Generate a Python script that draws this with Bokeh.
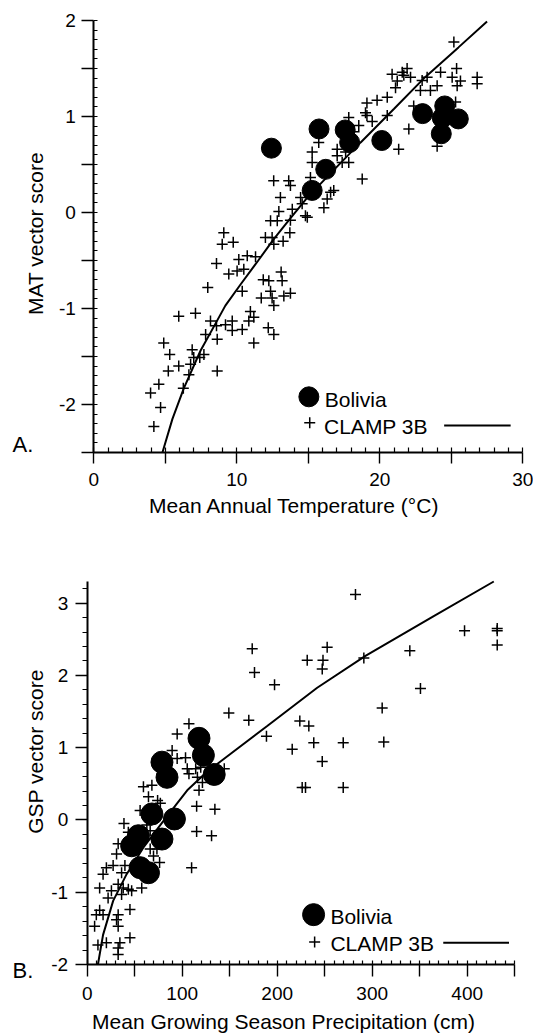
import math
from bokeh.plotting import figure
from bokeh.layouts import column
from bokeh.models import Range1d, FixedTicker, CustomJSTickFormatter, Label
from bokeh.embed import file_html
from bokeh.resources import INLINE

FONT = "Liberation Sans"

# ---------------- Panel A data ----------------
bolivia_a_x = [12.42, 15.75, 17.58, 17.89, 16.22, 15.27, 20.14, 22.99, 24.54, 24.37, 25.49, 24.30]
bolivia_a_y = [0.67, 0.87, 0.86, 0.73, 0.45, 0.23, 0.75, 1.03, 1.11, 0.985, 0.975, 0.82]

clamp_a_x = [13.05, 14.46, 12.94, 13.88, 12.36, 12.83, 13.75, 14.8, 9.09, 8.98, 9.75, 12.0, 12.47,
             12.59, 13.24, 13.71, 8.58, 10.14, 10.73, 11.31, 9.44, 10.02, 10.49, 10.38, 7.97, 11.85,
             12.24, 13.1, 13.17, 11.71, 12.36, 12.47, 13.29, 13.75, 12.59, 5.94, 7.11, 8.16, 8.58,
             7.82, 9.21, 9.68, 9.68, 10.38, 8.63, 10.95, 11.19, 10.84, 12.2, 12.59, 11.19, 4.89,
             5.31, 6.88, 7.7, 6.99, 7.41, 5.21, 5.94, 6.77, 6.65, 8.63, 4.55, 3.97, 6.26, 4.67, 4.2,
             25.18, 20.86, 21.57, 21.91, 22.15, 21.22, 21.1, 21.68, 20.52, 19.81, 19.1, 19.0, 19.1,
             20.52, 17.83, 18.53, 19.47, 22.96, 23.31, 22.84, 23.54, 24.01, 24.25, 25.37, 25.06,
             25.64, 25.41, 26.81, 26.81, 25.3, 22.37, 22.03, 21.32, 24.01, 15.73, 15.27, 15.27,
             15.15, 17.02, 17.02, 17.61, 17.83, 17.37, 18.77, 12.58, 13.63, 13.75, 16.56, 16.78,
             16.32, 16.09, 14.57, 14.93, 18.2]
clamp_a_y = [0.157, 0.157, 0.01, 0.035, -0.087, -0.087, -0.08, -0.035, -0.21, -0.33, -0.31, -0.26,
             -0.26, -0.33, -0.30, -0.21, -0.53, -0.49, -0.45, -0.46, -0.64, -0.61, -0.59, -0.82,
             -0.78, -0.70, -0.71, -0.62, -0.71, -0.89, -0.82, -0.89, -0.87, -0.84, -0.97, -1.08,
             -1.05, -1.13, -1.18, -1.27, -1.17, -1.13, -1.23, -1.22, -1.32, -1.03, -1.09, -1.13,
             -1.20, -1.27, -1.36, -1.36, -1.48, -1.43, -1.48, -1.51, -1.51, -1.65, -1.60, -1.58,
             -1.69, -1.65, -1.79, -1.88, -1.83, -2.03, -2.23,
             1.775, 1.44, 1.46, 1.50, 1.41, 1.37, 1.30, 1.43, 1.20, 1.17, 1.14, 1.04, 1.01, 1.01,
             0.99, 0.905, 0.947, 1.375, 1.41, 1.27, 1.27, 1.32, 1.46, 1.50, 1.41, 1.37, 1.32, 1.41,
             1.34, 1.15, 1.11, 0.87, 0.66, 0.69, 0.73, 0.63, 0.52, 0.365, 0.66, 0.59, 0.63, 0.52,
             0.52, 0.35, 0.33, 0.33, 0.28, 0.21, 0.23, 0.14, 0.05, 0.09, -0.05, 0.84]

fit_a_x = [4.8, 5.5, 6.3, 7.46, 8.5, 9.2, 10.26, 11.5, 12.57, 13.7, 14.9, 16.5, 18.66, 21.0, 23.17, 25.5, 27.5]
fit_a_y = [-2.5, -2.15, -1.83, -1.44, -1.16, -0.97, -0.75, -0.50, -0.28, -0.07, 0.15, 0.40, 0.73, 1.08, 1.41, 1.72, 1.99]

# ---------------- Panel B data ----------------
bolivia_b_x = [78.7, 84.0, 117.7, 122.3, 133.7, 68.1, 91.8, 78.7, 53.9, 46.8, 55.7, 64.5]
bolivia_b_y = [0.80, 0.59, 1.13, 0.895, 0.63, 0.083, 0.014, -0.264, -0.218, -0.357, -0.66, -0.73]

clamp_b_x = [282.4, 173.7, 176.1, 197.2, 252.6, 231.6, 248.2, 247.4, 291.2, 339.6, 350.8, 310.5,
             312.2, 397.2, 431.6, 431.6, 431.6, 149.1, 170.1, 188.7, 223.8, 233.3, 215.8, 238.5,
             269.5, 247.4, 226.3, 229.8, 269.5,
             107.1, 94.7, 89.4, 94.7, 103.5, 105.3, 107.1, 114.2, 119.5, 116.0, 121.3, 117.7, 144.3,
             134.4, 115.2, 115.2, 130.9, 109.9,
             68.1, 59.2, 64.5, 74.1, 77.0, 55.7, 62.8, 66.3, 38.7, 43.3, 32.6, 30.9, 27.3, 20.2, 16.7,
             36.2, 39.7, 66.3, 69.8, 76.2, 73.4, 32.6, 37.9, 43.3, 57.4, 46.8, 36.2, 13.1, 22.0, 25.5,
             13.1, 9.6, 16.7, 7.8, 32.6, 30.9, 32.6, 45.0, 45.0, 34.4, 32.6, 32.6, 20.2, 11.3]
clamp_b_y = [3.12, 2.37, 2.04, 1.87, 2.39, 2.21, 2.21, 2.09, 2.24, 2.34, 1.82, 1.55, 1.08, 2.62,
             2.65, 2.62, 2.42, 1.48, 1.38, 1.16, 1.37, 1.30, 0.98, 1.07, 1.07, 0.81, 0.45, 0.45, 0.45,
             1.33, 1.19, 0.96, 0.85, 0.86, 0.71, 0.64, 0.71, 0.73, 0.59, 0.52, 0.41, 0.71, 0.15, 0.19,
             -0.16, -0.22, -0.66,
             0.48, 0.46, 0.32, 0.27, 0.23, 0.13, -0.07, -0.15, -0.05, -0.17, -0.33, -0.47, -0.63,
             -0.66, -0.75, -0.73, -0.63, -0.40, -0.50, -0.59, -0.40, -0.89, -0.94, -0.96, -0.94,
             -0.98, -1.03, -0.94, -1.08, -0.98, -1.25, -1.31, -1.31, -1.47, -1.31, -1.38, -1.47,
             -1.24, -1.63, -1.70, -1.86, -1.77, -1.70, -1.73]

fit_b_x = [11.3, 16.7, 27.3, 41.5, 59.2, 80.5, 105.3, 123, 140.3, 189.5, 242.1, 292.9, 364.8, 428]
fit_b_y = [-2.0, -1.59, -1.12, -0.75, -0.38, -0.01, 0.41, 0.63, 0.81, 1.30, 1.83, 2.27, 2.82, 3.30]

# ---------------- ticks ----------------
a_x_major = [0, 5, 10, 15, 20, 25, 30]
a_x_minor = list(range(0, 31))
a_y_major = [-2.5, -2.0, -1.5, -1.0, -0.5, 0.0, 0.5, 1.0, 1.5, 2.0]
a_y_minor = [round(-2.5 + 0.1 * i, 2) for i in range(46)]
b_x_major = list(range(0, 451, 50))
b_x_minor = list(range(0, 451, 10))
b_y_major = [-2, -1, 0, 1, 2, 3]
b_y_minor = [round(-2 + 0.2 * i, 2) for i in range(27)]

FMT = "return (Math.abs(tick/step - Math.round(tick/step)) < 1e-6) ? tick.toFixed(0) : '';"


class Panel:
    """Figure whose frame fills the canvas; axes drawn at fixed data locations."""

    def __init__(self, W, H, data_x, data_y, px_x, px_y):
        (x0, x1), (y0, y1) = data_x, data_y
        (l, r), (b, t) = px_x, px_y          # pixel positions of x0,x1 and y0,y1 (top-down)
        self.sx = (r - l) / (x1 - x0)
        self.sy = (b - t) / (y1 - y0)
        self.xs = x0 - l / self.sx
        self.xe = x1 + (W - r) / self.sx
        self.ye = y1 + t / self.sy
        self.ys = y0 - (H - b) / self.sy
        p = figure(width=W, height=H, x_range=Range1d(self.xs, self.xe),
                   y_range=Range1d(self.ys, self.ye), output_backend="svg",
                   toolbar_location=None, min_border=0,
                   min_border_left=0, min_border_right=0, min_border_top=0, min_border_bottom=0)
        p.outline_line_color = None
        p.xgrid.visible = False
        p.ygrid.visible = False
        p.background_fill_color = "white"
        p.border_fill_color = "white"
        self.p = p

    def dx(self, px):
        return self.xs + px / self.sx

    def dy(self, py):
        return self.ye - py / self.sy

    def text(self, px, py, txt, size="21px", align="left", angle=0.0):
        self.p.add_layout(Label(x=self.dx(px), y=self.dy(py), text=txt, text_font=FONT,
                                text_font_size=size, text_align=align, text_baseline="middle",
                                angle=angle, text_color="black"))


def style_axis(ax, major, minor, step, bounds, loc, maj_out, min_in, min_out, lab_standoff):
    ax.ticker = FixedTicker(ticks=major, minor_ticks=minor)
    ax.formatter = CustomJSTickFormatter(args=dict(step=step), code=FMT)
    ax.bounds = bounds
    ax.fixed_location = loc
    ax.axis_line_width = 2
    ax.axis_line_color = "black"
    ax.major_tick_out = maj_out
    ax.major_tick_in = 0
    ax.minor_tick_in = min_in
    ax.minor_tick_out = min_out
    ax.major_tick_line_width = 1.4
    ax.minor_tick_line_width = 1.2
    ax.major_tick_line_color = "black"
    ax.minor_tick_line_color = "black"
    ax.major_label_standoff = lab_standoff
    ax.major_label_text_font = FONT
    ax.major_label_text_font_size = "19px"
    ax.major_label_text_color = "black"


def draw_legend(P, leg, dot_size):
    p = P.p
    p.scatter([leg["dot"][0]], [leg["dot"][1]], marker="circle", size=dot_size,
              fill_color="black", line_color="black")
    p.scatter([leg["plus"][0]], [leg["plus"][1]], marker="cross", size=11,
              line_color="black", line_width=1.5)
    lx0, lx1, ly = leg["line"]
    p.line([lx0, lx1], [ly, ly], line_color="black", line_width=2)
    for (tx, ty, txt) in leg["texts"]:
        p.add_layout(Label(x=tx, y=ty, text=txt, text_font=FONT, text_font_size="21px",
                           text_baseline="middle", text_align="left", text_color="black"))


# ---------------- Panel A ----------------
A = Panel(533, 520, (0, 30), (-2.5, 2), (93.3, 522.3), (452.0, 20.0))
pA = A.p
style_axis(pA.xaxis[0], a_x_major, a_x_minor, 10, (0, 30), -2.5, 11, 5, 0, 9)
style_axis(pA.yaxis[0], a_y_major, a_y_minor, 1, (-2.5, 2), 0, 12, 4, 0, 6)

pA.scatter(clamp_a_x, clamp_a_y, marker="cross", size=11, line_color="black", line_width=1.5)
pA.line(fit_a_x, fit_a_y, line_color="black", line_width=2)
pA.scatter(bolivia_a_x, bolivia_a_y, marker="circle", size=20, fill_color="black", line_color="black")

draw_legend(A, dict(dot=(15.04, -1.92), plus=(15.1, -2.19), line=(24.5, 29.15, -2.22),
                    texts=[(16.15, -1.95, "Bolivia"), (16.1, -2.23, "CLAMP 3B")]), 20)
A.text(294, 505, "Mean Annual Temperature (°C)", align="center")
A.text(35, 233, "MAT vector score", align="center", angle=math.pi / 2)
A.text(12, 444, "A.", size="22px")

# ---------------- Panel B ----------------
B = Panel(533, 516, (0, 450), (-2, 3.3), (86.7, 514.2), (444.0, 61.0))
pB = B.p
style_axis(pB.xaxis[0], b_x_major, b_x_minor, 100, (0, 450), -2, 12, 4, 0, 10)
style_axis(pB.yaxis[0], b_y_major, b_y_minor, 1, (-2, 3.3), 0, 12, 0, 5, 7)

pB.scatter(clamp_b_x, clamp_b_y, marker="cross", size=11, line_color="black", line_width=1.5)
pB.line(fit_b_x, fit_b_y, line_color="black", line_width=2)
pB.scatter(bolivia_b_x, bolivia_b_y, marker="circle", size=22, fill_color="black", line_color="black")

draw_legend(B, dict(dot=(238.3, -1.31), plus=(239.4, -1.69), line=(374.8, 444, -1.70),
                    texts=[(256, -1.33, "Bolivia"), (256, -1.71, "CLAMP 3B")]), 22)
B.text(283, 501, "Mean Growing Season Precipitation (cm)", align="center")
B.text(34.5, 231, "GSP vector score", align="center", angle=math.pi / 2)
B.text(12, 450, "B.", size="22px")

layout = column(pA, pB)
open("out.html", "w").write(file_html(layout, INLINE))
